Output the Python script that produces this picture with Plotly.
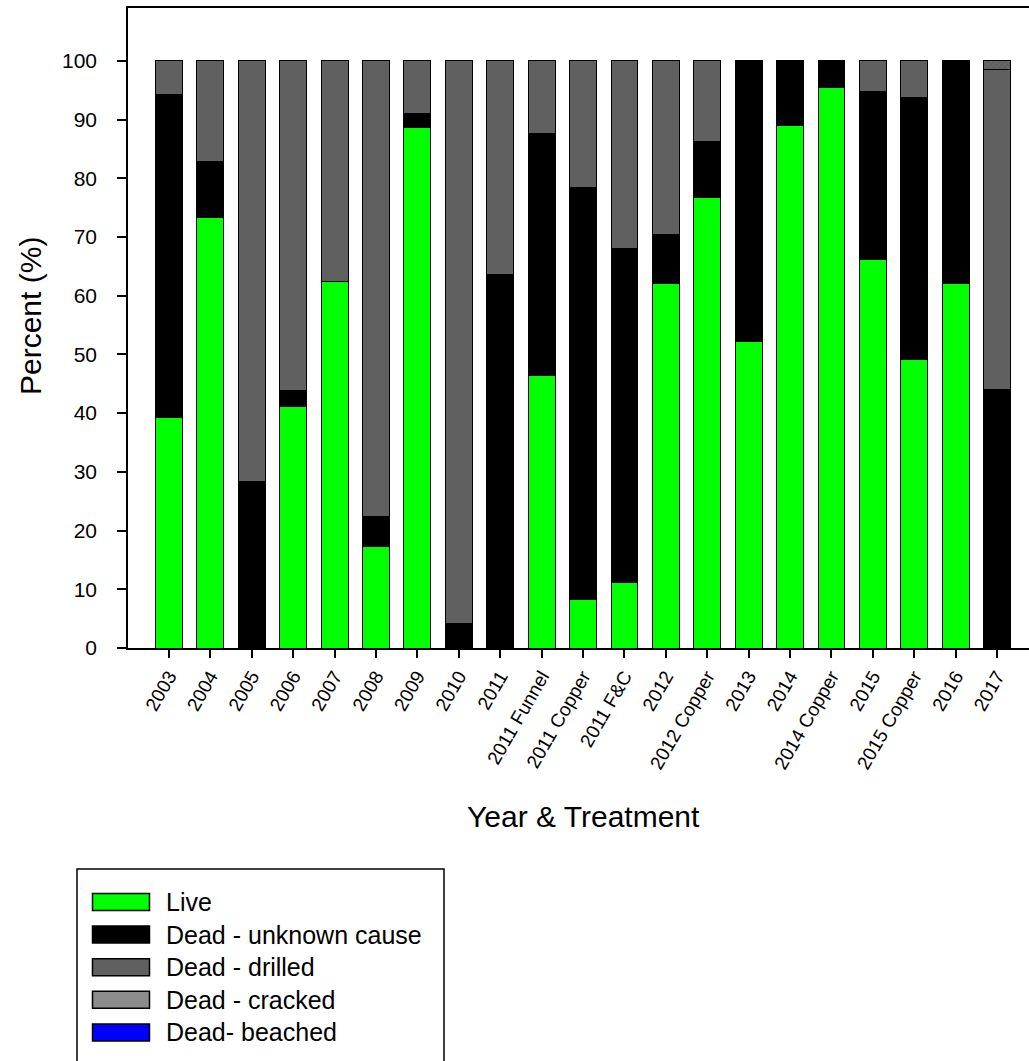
import plotly.graph_objects as go

categories = ["2003", "2004", "2005", "2006", "2007", "2008", "2009", "2010", "2011",
              "2011 Funnel", "2011 Copper", "2011 F&C", "2012", "2012 Copper", "2013",
              "2014", "2014 Copper", "2015", "2015 Copper", "2016", "2017"]

live = [39.2, 73.3, 0, 41.2, 62.4, 17.3, 88.6, 0, 0,
        46.4, 8.3, 11.1, 62.0, 76.7, 52.2, 89.0, 95.4, 66.2, 49.2, 62.0, 0]
dead_unknown = [55.0, 9.6, 28.3, 2.7, 0, 5.1, 2.4, 4.2, 63.6,
                41.2, 70.1, 57.0, 8.5, 9.5, 47.8, 11.0, 4.6, 28.5, 44.6, 38.0, 44.0]
dead_drilled = [5.8, 17.1, 71.7, 56.1, 37.6, 77.6, 9.0, 95.8, 36.4,
                12.4, 21.6, 31.9, 29.5, 13.8, 0, 0, 0, 5.3, 6.2, 0, 54.6]
dead_cracked = [0, 0, 0, 0, 0, 0, 0, 0, 0,
                0, 0, 0, 0, 0, 0, 0, 0, 0, 0, 0, 1.4]
dead_beached = [0] * 21

series_names = ["Live", "Dead - unknown cause", "Dead - drilled", "Dead - cracked", "Dead- beached"]
y_ticks = [0, 10, 20, 30, 40, 50, 60, 70, 80, 90, 100]

FONT = "Liberation Sans, Arial, sans-serif"
W, H = 1029, 1061
L, R, T, B = 128, 1029, 8, 648

def pxx(p):
    return (p - L) / (R - L)

def pxy(p):
    return (B - p) / (B - T)

fig = go.Figure()
line = dict(color="black", width=1)
fig.add_trace(go.Bar(x=categories, y=live, name=series_names[0], marker=dict(color="#00FF00", line=line)))
fig.add_trace(go.Bar(x=categories, y=dead_unknown, name=series_names[1], marker=dict(color="#000000", line=line)))
fig.add_trace(go.Bar(x=categories, y=dead_drilled, name=series_names[2], marker=dict(color="#606060", line=line)))
fig.add_trace(go.Bar(x=categories, y=dead_cracked, name=series_names[3],
                     marker=dict(color="#606060", line=line,
                                 pattern=dict(shape="x", fgcolor="#8a8a8a", bgcolor="#606060", size=4, solidity=0.2))))
fig.add_trace(go.Bar(x=categories, y=dead_beached, name=series_names[4], marker=dict(color="#0000FF", line=line)))

fig.update_traces(width=0.65, showlegend=False)

fig.update_layout(
    width=W, height=H,
    margin=dict(l=L, r=W - R, t=T, b=H - B, pad=0),
    barmode="stack",
    plot_bgcolor="white", paper_bgcolor="white",
    font=dict(family=FONT, color="black"),
    showlegend=False,
)
fig.update_xaxes(
    type="category", range=[-0.99, 20.77],
    showline=True, linecolor="black", linewidth=1.5, mirror=True,
    ticks="outside", ticklen=8, tickwidth=1.5, tickcolor="black",
    tickangle=-60, tickfont=dict(size=19, family=FONT),
    ticklabelstandoff=0, showgrid=False, zeroline=False,
)
fig.update_yaxes(
    range=[0, 109], tickvals=y_ticks,
    showline=True, linecolor="black", linewidth=1.5, mirror=False,
    ticks="outside", ticklen=9, tickwidth=1.5, tickcolor="black",
    tickfont=dict(size=21, family=FONT), ticklabelstandoff=16,
    showgrid=False, zeroline=False,
)

annotations = [
    dict(text="Year & Treatment", x=pxx(583), y=pxy(816), xref="paper", yref="paper",
         showarrow=False, xanchor="center", yanchor="middle", font=dict(size=30, family=FONT)),
    dict(text="Percent (%)", x=pxx(30), y=pxy(316), xref="paper", yref="paper", textangle=-90,
         showarrow=False, xanchor="center", yanchor="middle", font=dict(size=30, family=FONT)),
]
shapes = [
    dict(type="rect", xref="paper", yref="paper", x0=pxx(77), x1=pxx(444), y0=pxy(869), y1=pxy(1075),
         line=dict(color="black", width=1.5), fillcolor="rgba(0,0,0,0)", layer="above"),
]
swatch_colors = ["#00FF00", "#000000", "#606060", "#8c8c8c", "#0000FF"]
for i, (nm, col) in enumerate(zip(series_names, swatch_colors)):
    cy = 902 + i * 32.6
    shapes.append(dict(type="rect", xref="paper", yref="paper", x0=pxx(92.5), x1=pxx(149.5),
                       y0=pxy(cy - 8.5), y1=pxy(cy + 8.5), fillcolor=col,
                       line=dict(color="black", width=1.5), layer="above"))
    annotations.append(dict(text=nm, x=pxx(164), y=pxy(cy), xref="paper", yref="paper",
                            showarrow=False, xanchor="left", yanchor="middle",
                            font=dict(size=25, family=FONT)))
fig.update_layout(annotations=annotations, shapes=shapes)

fig.write_html("out.html", config={"displayModeBar": False},
               post_script="document.body.style.margin='0px';document.body.style.overflow='hidden';")
